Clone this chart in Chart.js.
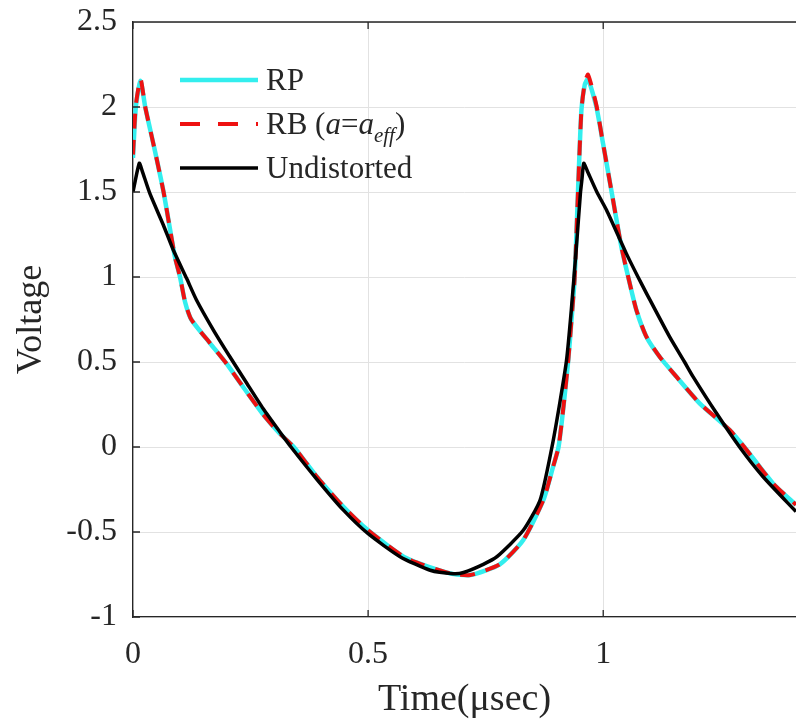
<!DOCTYPE html>
<html>
<head>
<meta charset="utf-8">
<title>Voltage x Time</title>
<script src="https://cdn.jsdelivr.net/npm/chart.js@4.4.1/dist/chart.umd.min.js"></script>
<style>
    html, body { margin: 0; padding: 0; background: #ffffff; }
    #grafico { display: block; }
</style>
</head>
<body>
<canvas id="grafico" width="796" height="724"></canvas>
<script>
// ==========================================================
// Dados
// ==========================================================

const xTicks = [0, 0.5, 1];
const yTicks = [-1, -0.5, 0, 0.5, 1, 1.5, 2, 2.5];

// Undistorted (preto)
const tempoUnd = [0, 0.0134, 0.02, 0.036, 0.0645, 0.0857, 0.114, 0.135, 0.171, 0.206, 0.242,
    0.277, 0.312, 0.336, 0.391, 0.447, 0.5, 0.568, 0.632, 0.681, 0.703,
    0.745, 0.774, 0.83, 0.866, 0.891, 0.908, 0.922, 0.932, 0.943, 0.9515,
    0.955, 0.9586, 0.966, 0.9865, 1.007, 1.049, 1.074, 1.092, 1.141, 1.173, 1.191, 1.241,
    1.29, 1.34, 1.41];
const voltUnd = [1.50, 1.669, 1.62, 1.49, 1.306, 1.159, 0.992, 0.865, 0.688, 0.531, 0.375,
    0.225, 0.09, 0.0, -0.19, -0.37, -0.51, -0.645, -0.725, -0.745, -0.738,
    -0.69, -0.645, -0.49, -0.31, 0.0, 0.265, 0.51, 0.8, 1.178, 1.492,
    1.58, 1.669, 1.625, 1.5, 1.394, 1.139, 1.0, 0.904, 0.649, 0.5, 0.414, 0.198,
    0.0, -0.175, -0.38];

// RP (ciano) e RB (vermelho tracejado) - mesmos instantes
const tempoRP = [0, 0.006, 0.016, 0.026, 0.046, 0.065, 0.089, 0.1, 0.111, 0.124,
    0.164, 0.199, 0.235, 0.277, 0.31, 0.342, 0.391, 0.447, 0.5, 0.582,
    0.674, 0.717, 0.78, 0.83, 0.873, 0.893, 0.905, 0.916, 0.926, 0.934,
    0.9394, 0.9465, 0.9536, 0.9607, 0.9677, 0.9855, 0.9996, 1.0174, 1.0386, 1.0527,
    1.0705, 1.0918, 1.12, 1.1556, 1.2051, 1.269, 1.30, 1.361, 1.41];
const voltRP = [1.70, 2.0, 2.155, 2.0, 1.75, 1.5, 1.12, 1.0, 0.85, 0.75,
    0.61, 0.49, 0.35, 0.19, 0.085, 0.0, -0.175, -0.35, -0.49, -0.655,
    -0.743, -0.753, -0.69, -0.547, -0.31, -0.12, 0.0, 0.25, 0.52, 0.8,
    1.0, 1.51, 1.98, 2.13, 2.165, 2.0, 1.786, 1.508, 1.178, 1.006,
    0.806, 0.649, 0.531, 0.414, 0.257, 0.10, 0.0, -0.214, -0.34];
const voltRB = [1.72, 2.01, 2.165, 2.0, 1.75, 1.5, 1.12, 1.0, 0.85, 0.75,
    0.61, 0.49, 0.35, 0.19, 0.085, 0.0, -0.175, -0.35, -0.49, -0.655,
    -0.743, -0.753, -0.69, -0.547, -0.31, -0.12, 0.0, 0.25, 0.52, 0.8,
    1.0, 1.51, 1.98, 2.14, 2.19, 2.01, 1.786, 1.508, 1.178, 1.006,
    0.806, 0.649, 0.531, 0.414, 0.257, 0.10, 0.0, -0.214, -0.34];

// ==========================================================
// Cores / fontes
// ==========================================================

const CORES = {
    ciano: "#33EEEE",
    vermelho: "#EE1111",
    preto: "#000000",
    eixo: "#262626",
    grade: "#E2E2E2"
};

const FONTE = "'Liberation Serif', 'Times New Roman', serif";

function pontos(ts, vs){
    return ts.map((t, i)=>({x: t, y: vs[i]}));
}

// ==========================================================
// PLUGIN: borda superior e ticks internos (estilo MATLAB)
// ==========================================================

const molduraPlugin = {

    id: "moldura",

    afterDatasetsDraw(chart){

        const {ctx, chartArea:{left, right, top, bottom}, scales:{x, y}} = chart;

        ctx.save();
        ctx.strokeStyle = CORES.eixo;
        ctx.lineWidth = 1.3;
        ctx.beginPath();

        ctx.moveTo(left, top);
        ctx.lineTo(right, top);

        yTicks.forEach(v=>{
            const py = y.getPixelForValue(v);
            ctx.moveTo(left, py);
            ctx.lineTo(left + 7, py);
        });

        xTicks.forEach(v=>{
            const px = x.getPixelForValue(v);
            ctx.moveTo(px, bottom);
            ctx.lineTo(px, bottom - 7);
            ctx.moveTo(px, top);
            ctx.lineTo(px, top + 7);
        });

        ctx.stroke();
        ctx.restore();

    }

};

// ==========================================================
// PLUGIN: legenda sem caixa, com índice em itálico
// ==========================================================

const legendaPlugin = {

    id: "legendaMatlab",

    afterDraw(chart){

        const {ctx} = chart;
        const xLinha = 180, comp = 78, xTexto = 266, y0 = 80, passo = 44;

        chart.data.datasets.forEach((ds, i)=>{

            const yl = y0 + i * passo;

            ctx.save();
            ctx.strokeStyle = ds.borderColor;
            ctx.lineWidth = ds.borderWidth;
            ctx.setLineDash(ds.borderDash ? [20, 18] : []);
            ctx.beginPath();
            ctx.moveTo(xLinha, yl);
            ctx.lineTo(xLinha + comp, yl);
            ctx.stroke();
            ctx.restore();

            ctx.save();
            ctx.fillStyle = CORES.eixo;
            ctx.textBaseline = "alphabetic";
            ctx.textAlign = "left";

            let cx = xTexto;
            const base = yl + 10;

            ds.partes.forEach(([texto, estilo])=>{
                let dy = 0;
                if(estilo === "italic"){
                    ctx.font = "italic 31px " + FONTE;
                } else if(estilo === "sub"){
                    ctx.font = "italic 21px " + FONTE;
                    dy = 8;
                } else {
                    ctx.font = "31px " + FONTE;
                }
                ctx.fillText(texto, cx, base + dy);
                cx += ctx.measureText(texto).width;
            });

            ctx.restore();

        });

    }

};

// ==========================================================
// GRÁFICO
// ==========================================================

const canvas = document.getElementById("grafico");

new Chart(canvas, {

    type: "line",

    data: {

        datasets: [
            {
                label: "RP",
                partes: [["RP", ""]],
                data: pontos(tempoRP, voltRP),
                borderColor: CORES.ciano,
                borderWidth: 4.5,
                order: 2
            },
            {
                label: "RB (a=a_eff)",
                partes: [["RB (", ""], ["a", "italic"], ["=", ""], ["a", "italic"], ["eff", "sub"], [")", ""]],
                data: pontos(tempoRP, voltRB),
                borderColor: CORES.vermelho,
                borderWidth: 4,
                borderDash: [15, 11],
                order: 1
            },
            {
                label: "Undistorted",
                partes: [["Undistorted", ""]],
                data: pontos(tempoUnd, voltUnd),
                borderColor: CORES.preto,
                borderWidth: 3.5,
                order: 0
            }
        ]

    },

    options: {

        responsive: false,
        animation: false,

        layout: {
            padding: {top: 22, right: 0, bottom: 0, left: 0}
        },

        elements: {
            point: {radius: 0},
            line: {tension: 0.2, fill: false}
        },

        plugins: {
            legend: {display: false},
            tooltip: {enabled: false}
        },

        scales: {

            x: {
                type: "linear",
                min: 0,
                max: 1.41,
                afterBuildTicks: s => { s.ticks = xTicks.map(v=>({value: v})); },
                afterFit: s => {
                    s.height = 107;
                    s.paddingLeft = 0;
                    s.paddingRight = 0;
                },
                ticks: {
                    font: {family: FONTE, size: 32},
                    color: CORES.eixo,
                    padding: 18,
                    maxRotation: 0,
                    autoSkip: false,
                    callback: v => String(v)
                },
                grid: {color: CORES.grade, lineWidth: 1, drawTicks: false},
                border: {color: CORES.eixo, width: 1.3},
                title: {
                    display: true,
                    text: "Time(μsec)",
                    font: {family: FONTE, size: 38},
                    color: CORES.eixo,
                    padding: {top: 0, bottom: 1}
                }
            },

            y: {
                type: "linear",
                min: -1,
                max: 2.5,
                afterBuildTicks: s => { s.ticks = yTicks.map(v=>({value: v})); },
                afterFit: s => {
                    s.width = 133;
                    s.paddingTop = 0;
                    s.paddingBottom = 0;
                },
                ticks: {
                    font: {family: FONTE, size: 32},
                    color: CORES.eixo,
                    padding: 16,
                    autoSkip: false,
                    callback: v => String(v)
                },
                grid: {color: CORES.grade, lineWidth: 1, drawTicks: false},
                border: {color: CORES.eixo, width: 1.3},
                title: {
                    display: true,
                    text: "Voltage",
                    font: {family: FONTE, size: 36},
                    color: CORES.eixo,
                    padding: {top: 10, bottom: 0}
                }
            }

        }

    },

    plugins: [molduraPlugin, legendaPlugin]

});
</script>
</body>
</html>
